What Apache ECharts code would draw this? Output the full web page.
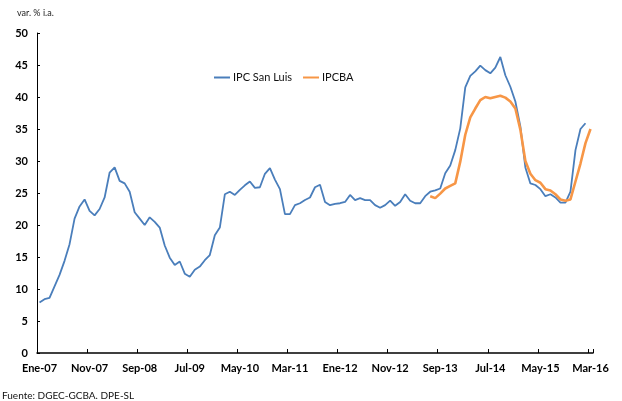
<!DOCTYPE html>
<html>
<head>
<meta charset="utf-8">
<script src="https://cdn.jsdelivr.net/npm/echarts@6/dist/echarts.min.js"></script>
<style>
  html, body { margin: 0; padding: 0; background: #fff; }
  #chart { width: 622px; height: 401px; }
</style>
</head>
<body>
<div id="chart"></div>
<script>
// Monthly categories, Ene-07 .. Mar-16
const monthNames = ['Ene','Feb','Mar','Abr','May','Jun','Jul','Ago','Sep','Oct','Nov','Dic'];
const years = ['07','08','09','10','11','12','13','14','15','16'];
const categories = [];
years.forEach(function (y) {
  monthNames.forEach(function (m) { categories.push(m + '-' + y); });
});
categories.length = categories.indexOf('Mar-16') + 1;

// IPC San Luis, var. % i.a. (Ene-07 .. Feb-16)
const ipcSanLuis = [
  7.9, 8.4, 8.6, 10.4, 12.2, 14.4, 17.0, 21.0, 22.9, 24.0, 22.2, 21.5,
  22.5, 24.3, 28.2, 29.0, 26.9, 26.5, 25.2, 22.0, 21.0, 20.0, 21.2, 20.5,
  19.6, 16.8, 14.9, 13.75, 14.3, 12.4, 11.9, 13.0, 13.5, 14.5, 15.3, 18.4,
  19.6, 24.8, 25.2, 24.7, 25.5, 26.2, 26.8, 25.8, 25.9, 28.0, 28.9, 27.1,
  25.6, 21.7, 21.7, 23.1, 23.4, 23.9, 24.3, 25.9, 26.3, 23.6, 23.1, 23.3,
  23.4, 23.6, 24.7, 23.9, 24.2, 23.9, 23.9, 23.1, 22.7, 23.1, 23.8, 23.0,
  23.6, 24.8, 23.8, 23.4, 23.4, 24.5, 25.2, 25.4, 25.7, 28.1, 29.3, 31.7,
  35.1, 41.5, 43.3, 44.0, 44.9, 44.2, 43.7, 44.6, 46.25, 43.4, 41.6, 39.3,
  35.4, 29.0, 26.5, 26.25, 25.6, 24.5, 24.8, 24.3, 23.5, 23.5, 25.2, 31.7,
  35.0, 35.9
];

// IPCBA, var. % i.a. (Jul-13 .. Mar-16)
const ipcbaStart = 'Jul-13';
const ipcba = [
  24.5, 24.2, 24.9, 25.7, 26.1, 26.5, 29.9, 34.1, 36.8, 38.2, 39.5, 40.0,
  39.8, 40.0, 40.2, 39.9, 39.3, 38.2, 34.9, 30.0, 28.0, 27.0, 26.6, 25.6,
  25.4, 24.8, 24.0, 23.8, 24.0, 26.8, 29.6, 32.8, 35.0
];

const yTicks = { min: 0, max: 50, step: 5 };

const ipcbaSeries = categories.map(function (c, i) {
  const k = i - categories.indexOf(ipcbaStart);
  return (k >= 0 && k < ipcba.length) ? ipcba[k] : null;
});

const font = 'Lato, "Open Sans", sans-serif';
const chart = echarts.init(document.getElementById('chart'), null, { renderer: 'canvas' });

chart.setOption({
  backgroundColor: '#ffffff',
  animation: false,
  textStyle: { fontFamily: font },
  grid: { left: 37, right: 29, top: 33, bottom: 48, containLabel: false },
  graphic: [
    { type: 'text', left: 17, top: 9,
      style: { text: 'var. % i.a.', font: '9px ' + font, fill: '#222' } },
    { type: 'text', left: 2, top: 391,
      style: { text: 'Fuente: DGEC-GCBA. DPE-SL', font: '10px ' + font, fill: '#111' } }
  ],
  legend: {
    left: 209, top: 67,
    itemWidth: 16, itemHeight: 10, itemGap: 11,
    icon: 'path://M0,4 L16,4 L16,6 L0,6 Z',
    textStyle: { fontFamily: font, fontSize: 11, color: '#111', padding: [0, 0, 0, -2] },
    data: ['IPC San Luis', 'IPCBA']
  },
  xAxis: {
    type: 'category',
    data: categories,
    boundaryGap: true,
    axisLine: { lineStyle: { color: '#000', width: 1.5 } },
    axisTick: { show: true, inside: true, length: 4, interval: 9, lineStyle: { color: '#000', width: 1 } },
    axisLabel: {
      interval: 9, margin: 10, color: '#000', fontWeight: 'bold', fontSize: 11, fontFamily: font
    },
    splitLine: { show: false }
  },
  yAxis: {
    type: 'value',
    min: yTicks.min, max: yTicks.max, interval: yTicks.step,
    axisLine: { show: true, lineStyle: { color: '#000', width: 1 } },
    axisTick: { show: true, inside: true, length: 3, lineStyle: { color: '#000' } },
    axisLabel: { margin: 9, color: '#000', fontWeight: 'bold', fontSize: 11, fontFamily: font },
    splitLine: { show: false }
  },
  series: [
    {
      name: 'IPC San Luis', type: 'line', data: ipcSanLuis,
      symbol: 'none', smooth: false,
      lineStyle: { color: '#4a7ebb', width: 1.8 },
      itemStyle: { color: '#4a7ebb' }
    },
    {
      name: 'IPCBA', type: 'line', data: ipcbaSeries,
      symbol: 'none', smooth: false, connectNulls: false,
      lineStyle: { color: '#f79646', width: 2.6 },
      itemStyle: { color: '#f79646' }
    }
  ]
});
</script>
</body>
</html>
